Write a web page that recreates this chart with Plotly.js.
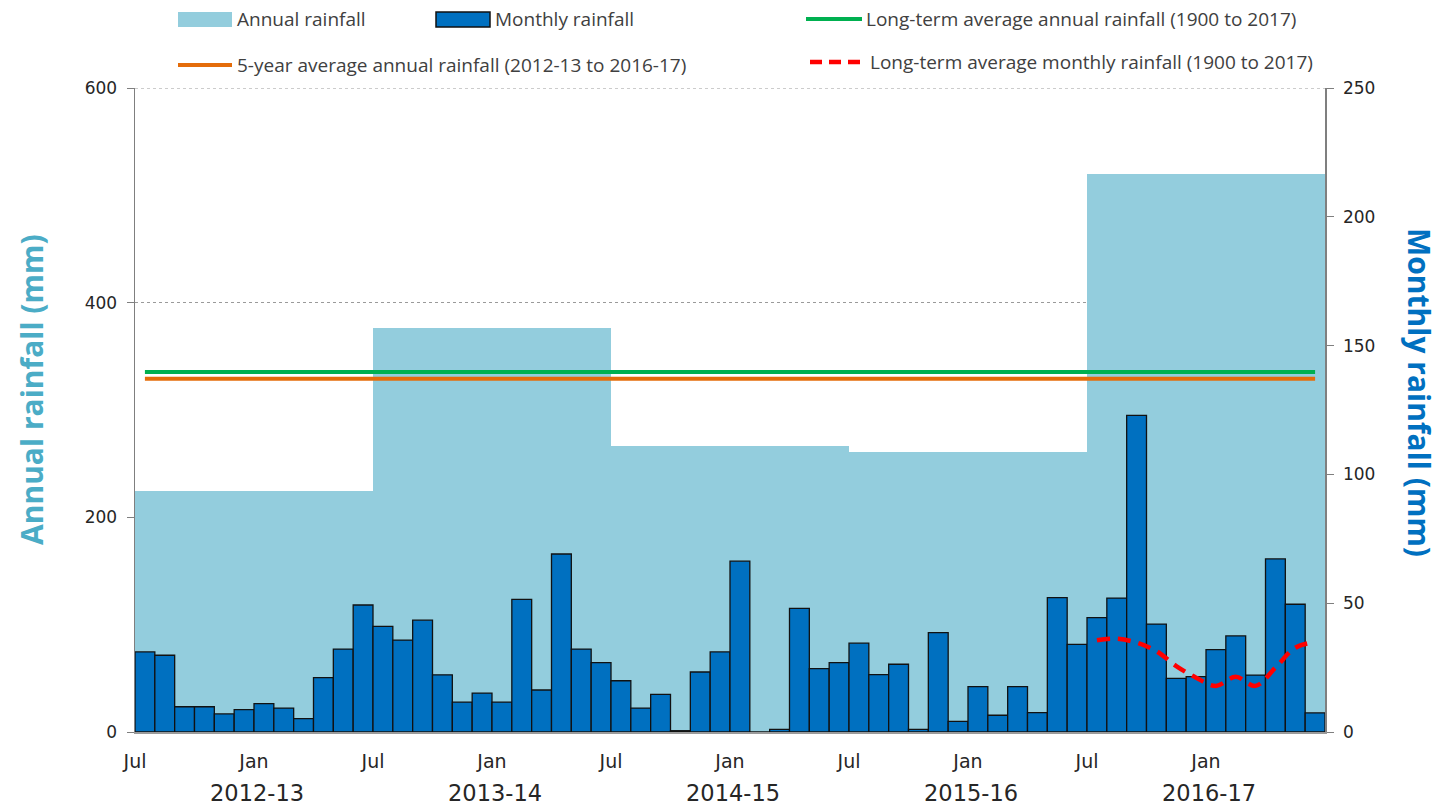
<!DOCTYPE html>
<html>
<head>
<meta charset="utf-8">
<script src="https://cdn.plot.ly/plotly-3.0.1.min.js"></script>
<style>
  html, body { margin: 0; padding: 0; background: #ffffff; }
  #chart { width: 1440px; height: 807px; }
</style>
</head>
<body>
<div id="chart"></div>
<script>
// ---------------- DATA ----------------
const fiscalYears = ["2012-13", "2013-14", "2014-15", "2015-16", "2016-17"];
const annualRainfall = [224.5, 376.4, 266.7, 261.2, 520.0];           // mm, left axis
const monthTickLabels = ["Jul", "Jan"];

// Monthly rainfall (mm), Jul..Jun of each financial year, right axis
const monthly2012_13 = [31.1, 29.8, 9.8, 9.8, 7.0, 8.7, 11.0, 9.3, 5.2, 21.1, 32.2, 49.3];
const monthly2013_14 = [41.0, 35.7, 43.4, 22.2, 11.6, 15.1, 11.6, 51.5, 16.3, 69.1, 32.2, 26.9];
const monthly2014_15 = [19.9, 9.3, 14.6, 0.5, 23.3, 31.1, 66.3, 0.0, 1.0, 48.0, 24.6, 26.9];
const monthly2015_16 = [34.5, 22.3, 26.3, 1.0, 38.6, 4.1, 17.6, 6.5, 17.6, 7.5, 52.2, 34.0];
const monthly2016_17 = [44.4, 52.0, 122.9, 41.9, 20.8, 21.5, 32.0, 37.3, 22.1, 67.2, 49.6, 7.4];

// Long-term average monthly rainfall 1900-2017 (Jul..Jun), shown for 2016-17
const longTermMonthlyAvg = [35.6, 36.2, 34.7, 31.4, 25.6, 21.1, 17.9, 21.4, 17.9, 25.0, 32.7, 34.9];

const longTermAnnualAvg = 335.4;   // mm (1900 to 2017)
const fiveYearAnnualAvg = 329.2;   // mm (2012-13 to 2016-17)

// ---------------- BUILD ----------------
const monthlyAll = [].concat(monthly2012_13, monthly2013_14, monthly2014_15, monthly2015_16, monthly2016_17);
const monthX = monthlyAll.map((_, i) => i + 0.5);
const yearX = fiscalYears.map((_, k) => k * 12 + 6);
const lastYearStart = (fiscalYears.length - 1) * 12;
const ltMonthX = longTermMonthlyAvg.map((_, i) => lastYearStart + i + 0.5);
const firstX = monthX[0], lastX = monthX[monthX.length - 1];

const tickVals = [], tickText = [];
for (let v = 0; v < monthlyAll.length; v += 6) { tickVals.push(v); tickText.push(monthTickLabels[(v / 6) % 2]); }

const C_ANNUAL = "#93CDDD", C_MONTHLY = "#0070C0", C_GREEN = "#00B050", C_ORANGE = "#E46C0A", C_RED = "#FF0000";
const TXT = "#262626";

const traces = [
  { type: "bar", x: yearX, y: annualRainfall, width: 12, yaxis: "y", xaxis: "x",
    marker: { color: C_ANNUAL, line: { width: 0 } }, name: "Annual rainfall", showlegend: false, hoverinfo: "y" },
  { type: "scatter", mode: "lines", x: [firstX, lastX], y: [longTermAnnualAvg, longTermAnnualAvg], yaxis: "y",
    line: { color: C_GREEN, width: 4 }, name: "Long-term average annual rainfall (1900 to 2017)", showlegend: false },
  { type: "scatter", mode: "lines", x: [firstX, lastX], y: [fiveYearAnnualAvg, fiveYearAnnualAvg], yaxis: "y",
    line: { color: C_ORANGE, width: 4 }, name: "5-year average annual rainfall (2012-13 to 2016-17)", showlegend: false },
  { type: "bar", x: monthX, y: monthlyAll, width: 1, yaxis: "y2",
    marker: { color: C_MONTHLY, line: { color: "#111111", width: 1.3 } }, name: "Monthly rainfall", showlegend: false },
  { type: "scatter", mode: "lines", x: ltMonthX, y: longTermMonthlyAvg, yaxis: "y2",
    line: { color: C_RED, width: 4.5, dash: "13px,8px", shape: "spline", smoothing: 1 },
    name: "Long-term average monthly rainfall (1900 to 2017)", showlegend: false }
];

// plot area in pixels
const L = 135, R = 1325, T = 88, B = 732;
const px = x => (x - L) / (R - L);
const py = y => (B - y) / (B - T);

const shapes = [
  { type: "line", xref: "paper", yref: "y", x0: 0, x1: 1, y0: 600, y1: 600, line: { color: "#9a9a9a", width: 1, dash: "dot" }, layer: "below" },
  { type: "rect", xref: "paper", yref: "paper", x0: px(178), x1: px(232), y0: py(27), y1: py(12), fillcolor: C_ANNUAL, line: { width: 0 } },
  { type: "rect", xref: "paper", yref: "paper", x0: px(436), x1: px(490), y0: py(27), y1: py(12), fillcolor: C_MONTHLY, line: { color: "#111111", width: 1.5 } },
  { type: "line", xref: "paper", yref: "paper", x0: px(806), x1: px(862), y0: py(19), y1: py(19), line: { color: C_GREEN, width: 4 } },
  { type: "line", xref: "paper", yref: "paper", x0: px(178), x1: px(232), y0: py(65), y1: py(65), line: { color: C_ORANGE, width: 4 } },
  { type: "line", xref: "paper", yref: "paper", x0: px(810), x1: px(862), y0: py(62), y1: py(62), line: { color: C_RED, width: 4.5, dash: "12px,7px" } }
];

const legFont = { family: "'Open Sans', Lato, sans-serif", size: 19, color: "#404040" };
const annotations = [
  { xref: "paper", yref: "paper", x: px(235), y: py(19), xanchor: "left", yanchor: "middle", text: "Annual rainfall", showarrow: false, font: legFont },
  { xref: "paper", yref: "paper", x: px(493), y: py(19), xanchor: "left", yanchor: "middle", text: "Monthly rainfall", showarrow: false, font: legFont },
  { xref: "paper", yref: "paper", x: px(864), y: py(19), xanchor: "left", yanchor: "middle", text: "Long-term average annual rainfall (1900 to 2017)", showarrow: false, font: legFont },
  { xref: "paper", yref: "paper", x: px(235), y: py(65), xanchor: "left", yanchor: "middle", text: "5-year average annual rainfall (2012-13 to 2016-17)", showarrow: false, font: legFont },
  { xref: "paper", yref: "paper", x: px(868), y: py(62), xanchor: "left", yanchor: "middle", text: "Long-term average monthly rainfall (1900 to 2017)", showarrow: false, font: legFont },
  { xref: "paper", yref: "paper", x: px(31), y: py(390), xanchor: "center", yanchor: "middle", textangle: -90,
    text: "<b>Annual rainfall (mm)</b>", showarrow: false, font: { family: "'Open Sans', Lato, sans-serif", size: 30, color: "#4BACC6" } },
  { xref: "paper", yref: "paper", x: px(1420), y: py(392), xanchor: "center", yanchor: "middle", textangle: 90,
    text: "<b>Monthly rainfall (mm)</b>", showarrow: false, font: { family: "'Open Sans', Lato, sans-serif", size: 30, color: C_MONTHLY } }
];
fiscalYears.forEach((fy, k) => {
  annotations.push({ xref: "x", yref: "paper", x: yearX[k], y: py(793), xanchor: "center", yanchor: "middle", xshift: 3,
    text: fy, showarrow: false, font: { family: "'DejaVu Sans', Verdana, sans-serif", size: 22.5, color: TXT } });
});

const tickFont = { family: "'DejaVu Sans', Verdana, sans-serif", size: 17, color: TXT };
const layout = {
  width: 1440, height: 807,
  margin: { l: L, r: 1440 - R, t: T, b: 807 - B, pad: 0 },
  paper_bgcolor: "#ffffff", plot_bgcolor: "#ffffff",
  barmode: "overlay", bargap: 0,
  showlegend: false,
  xaxis: { range: [0, monthlyAll.length], tickmode: "array", tickvals: tickVals, ticktext: tickText,
    showgrid: false, zeroline: false, showline: true, linecolor: "#9a9a9a", linewidth: 1.5,
    ticks: "", ticklabelstandoff: 12, tickfont: { family: "'DejaVu Sans', Verdana, sans-serif", size: 19, color: TXT }, fixedrange: true },
  yaxis: { range: [0, 600], tickvals: [0, 200, 400, 600], showgrid: true, gridcolor: "#9a9a9a", griddash: "dot", gridwidth: 1,
    zeroline: false, showline: true, linecolor: "#7f7f7f", linewidth: 1.5, ticks: "outside", ticklen: 7, tickcolor: "#7f7f7f",
    tickfont: tickFont, ticklabelstandoff: 6 },
  yaxis2: { range: [0, 250], tickvals: [0, 50, 100, 150, 200, 250], overlaying: "y", side: "right", showgrid: false,
    zeroline: false, showline: true, linecolor: "#7f7f7f", linewidth: 1.5, ticks: "outside", ticklen: 7, tickcolor: "#7f7f7f",
    tickfont: tickFont, ticklabelstandoff: 6 },
  shapes: shapes,
  annotations: annotations
};

Plotly.newPlot("chart", traces, layout, { displayModeBar: false, staticPlot: true });
</script>
</body>
</html>
